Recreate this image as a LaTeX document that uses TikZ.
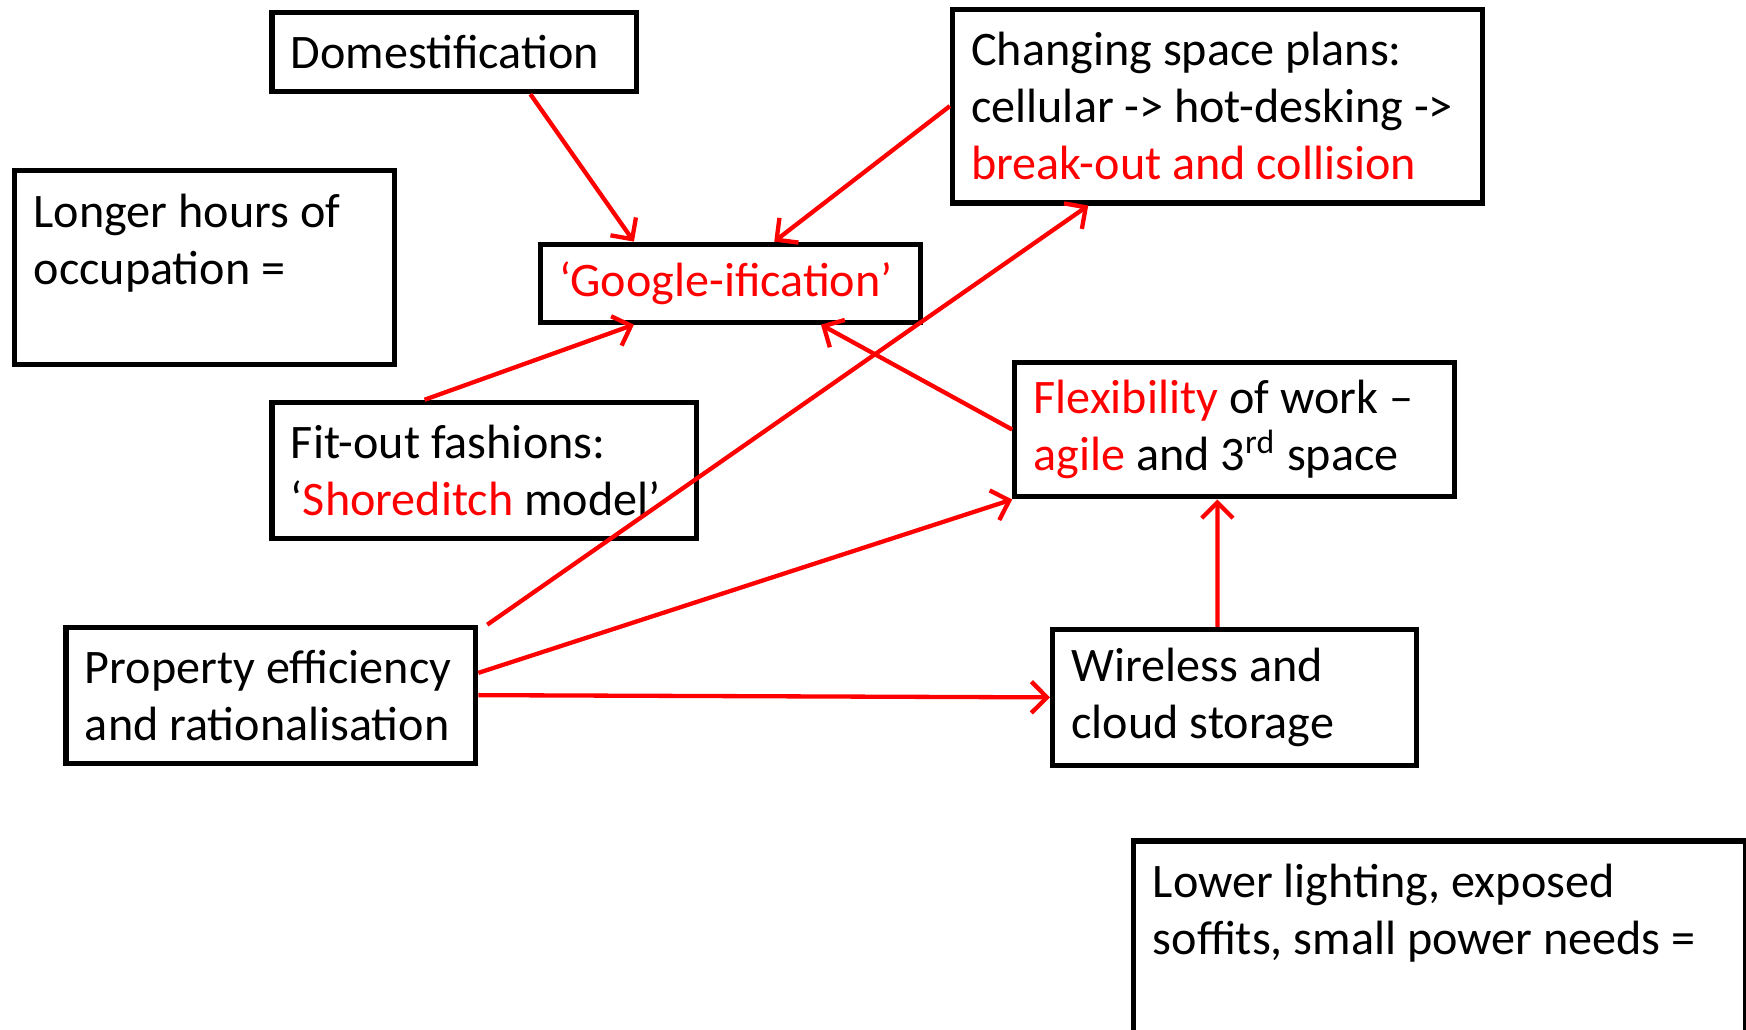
\documentclass[tikz,border=0pt]{standalone}
\usepackage{fontspec}
\setmainfont{Carlito}
\usepackage{tikz}
\usetikzlibrary{positioning,arrows.meta}
\definecolor{hotred}{RGB}{255,0,0}
\tikzstyle{redarrow} = [line width=1.1pt, draw=hotred, -{Straight Barb[length=1.4mm,width=2.8mm]}]
\newcommand{\hl}[1]{\textcolor{hotred}{#1}}

\begin{document}
\begin{tikzpicture}
\tikzset{%
	card/.style = {rectangle, draw=black, line width=1.3pt, anchor=north west, align=flush left, inner xsep=0.17cm, inner ysep=0pt, font=\fontsize{12.3pt}{14.6pt}\selectfont}
}
\useasboundingbox (0,0) rectangle (15.68,-9.25);

\node(dom) [card, text width=2.93cm, minimum height=0.71cm] at (2.42,-0.09) {Domestification};
\node(hours) [card, text width=3.07cm, minimum height=1.74cm] at (0.11,-1.51) {Longer hours of\\occupation =\\\mbox{}};
\node(goog) [card, text width=3.07cm, minimum height=0.70cm] at (4.83,-2.17) {\hl{‘Google-ification’}};
\node(chg) [card, text width=4.42cm, minimum height=1.74cm] at (8.53,-0.06) {Changing space plans:\\cellular -> hot-desking ->\\\hl{break-out and collision}};
\node(fit) [card, text width=3.47cm, minimum height=1.22cm] at (2.42,-3.59) {Fit-out fashions:\\‘\hl{Shoreditch} model’};
\node(flex) [card, text width=3.61cm, minimum height=1.21cm] at (9.09,-3.23) {\hl{Flexibility} of work –\\\hl{agile} and 3\textsuperscript{rd} space};
\node(prop) [card, text width=3.34cm, minimum height=1.22cm] at (0.57,-5.61) {Property efficiency\\and rationalisation};
\node(wire) [card, text width=2.93cm, minimum height=1.22cm] at (9.43,-5.63) {Wireless and\\cloud storage};
\node(light) [card, text width=5.15cm, minimum height=1.74cm] at (10.16,-7.53) {Lower lighting, exposed\\soffits, small power needs =\\\mbox{}};

\draw [redarrow] ([xshift=0.685cm]dom.south) -- ([xshift=-0.865cm]goog.north);
\draw [redarrow] (chg.west) -- ([xshift=0.395cm]goog.north);
\draw [redarrow] ([xshift=-0.535cm]fit.north) -- ([xshift=-0.865cm]goog.south);
\draw [redarrow] (flex.west) -- ([xshift=0.815cm]goog.south);
\draw [redarrow] ([xshift=0.08cm]prop.north east) -- ([xshift=-1.16cm]chg.south);
\draw [redarrow] ([yshift=0.2cm]prop.east) -- (flex.south west);
\draw [redarrow] (prop.east) -- (wire.west);
\draw [redarrow] ([xshift=-0.155cm]wire.north) -- ([xshift=-0.155cm]flex.south);
\end{tikzpicture}
\end{document}
